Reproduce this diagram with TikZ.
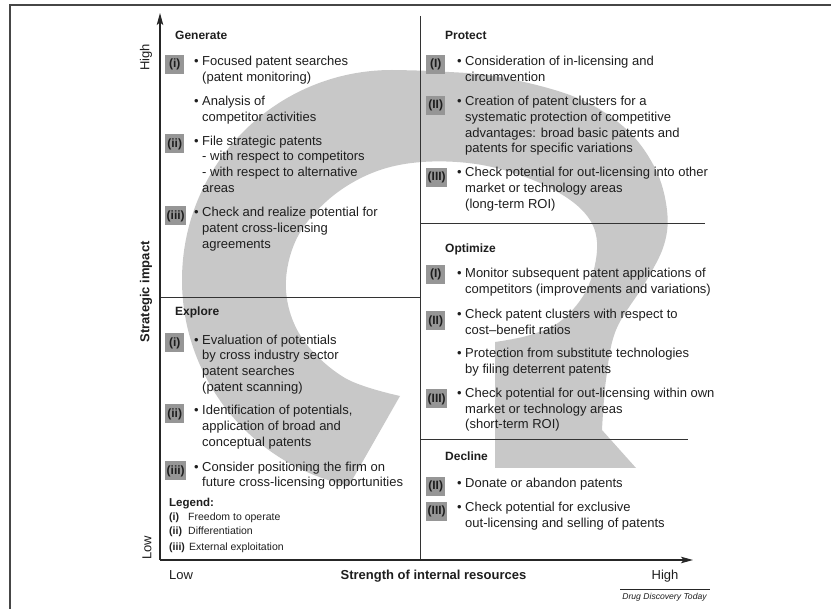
\documentclass[tikz,border=0pt]{standalone}
\usepackage{fontspec}
\setmainfont{Liberation Sans}
\usetikzlibrary{arrows.meta}
\definecolor{arrowgray}{RGB}{200,200,200}
\definecolor{badgegray}{RGB}{150,150,150}
\definecolor{txt}{RGB}{30,30,30}
\definecolor{framecol}{RGB}{70,70,70}
\begin{document}
\begin{tikzpicture}[x=1pt,y=-1pt,
  body/.style={font=\fontsize{13}{15.7}\selectfont, text=txt, align=left, anchor=north west, inner sep=0pt},
  headtxt/.style={font=\fontsize{12}{14}\selectfont\bfseries, text=txt, anchor=base west, inner sep=0pt},
  badge/.style={fill=badgegray, font=\fontsize{12}{14}\selectfont\bfseries, text=txt, inner xsep=1.5pt, inner ysep=0pt, minimum height=19pt, minimum width=19pt, anchor=west},
  axlab/.style={font=\fontsize{13}{15}\selectfont, text=txt, inner sep=0pt},
  legtxt/.style={font=\fontsize{10.5}{12}\selectfont, text=txt, anchor=base west, inner sep=0pt},
  divider/.style={draw=black!80, line width=0.9pt},
  axisline/.style={draw=black!85, line width=1.1pt, -{Stealth[length=12pt,width=6.5pt,inset=2.5pt]}}
]
\useasboundingbox (0,0) rectangle (831,609);
% outer frame
\draw[framecol, line width=1.6pt] (10,609) -- (10,5) -- (831,5);

% big circular arrow
\fill[arrowgray] (349,485.5) -- (400,396)
  -- plot[smooth, tension=0.6] coordinates {(400,396) (345,378) (302,338) (286,290) (296,240) (328,200) (372,173) (422,162) (482,165) (540,183) (582,210) (597,242) (588,287) (562,320) (530,335) (495,342)}
  -- (495,468) -- (636,468) -- (602,430)
  -- plot[smooth, tension=0.6] coordinates {(602,430) (606,380) (616,330) (645,283) (664,245) (667,210) (655,168) (625,128) (575,97) (500,77) (440,71.5) (392,70)}
  arc[start angle=270, end angle=101.6, radius=210] -- cycle;

% dividers
\draw[divider] (420,16) -- (420,560);
\draw[divider] (160,297) -- (420,297);
\draw[divider] (420,223) -- (705,223);
\draw[divider] (420,439) -- (688,439);

% axes
\coordinate (origin) at (160,560);
\coordinate (ytip) at (160,13);
\coordinate (xtip) at (693,560);
\draw[axisline] (origin) -- (ytip);
\draw[axisline] (origin) -- (xtip);

% axis labels
\node[axlab, rotate=90] (yhigh) at (146,57.5) {High};
\node[axlab, rotate=90, font=\fontsize{13}{15}\selectfont\bfseries] (ytitle) at (146,292) {Strategic impact};
\node[axlab, rotate=90] (ylow) at (147,548) {Low};
\node[axlab, anchor=base] (xlow) at (181,579.5) {Low};
\node[axlab, anchor=base, font=\fontsize{13}{15}\selectfont\bfseries] (xtitle) at (433.5,579.5) {Strength of internal resources};
\node[axlab, anchor=base] (xhigh) at (665,579.5) {High};
\draw[black!85, line width=0.8pt] (620,589.5) -- (710,589.5);
\node[anchor=base, inner sep=0pt, font=\fontsize{8.6}{10}\selectfont\itshape, text=txt] (source) at (664.5,599.5) {Drug Discovery Today};

% ---------- Generate ----------
\node[headtxt] (genh) at (175,40) {Generate};
\node[badge] (gb1) at (165,64.5) {(i)};
\node[body] (g1) at (202,54.5) {\strut\llap{•\ }Focused patent searches\\(patent monitoring)};
\node[body] (g2) at (202,94.5) {\strut\llap{•\ }Analysis of\\competitor activities};
\node[badge] (gb2) at (165,144) {(ii)};
\node[body] (g3) at (202,134) {\strut\llap{•\ }File strategic patents\\- with respect to competitors\\- with respect to alternative\\areas};
\node[badge] (gb3) at (165,216) {(iii)};
\node[body] (g4) at (202,205.5) {\strut\llap{•\ }Check and realize potential for\\patent cross-licensing\\agreements};

% ---------- Explore ----------
\node[headtxt] (exph) at (175,316) {Explore};
\node[badge] (eb1) at (165,343) {(i)};
\node[body] (e1) at (202,333) {\strut\llap{•\ }Evaluation of potentials\\by cross industry sector\\patent searches\\(patent scanning)};
\node[badge] (eb2) at (165,414) {(ii)};
\node[body] (e2) at (202,403.7) {\strut\llap{•\ }Identification of potentials,\\application of broad and\\conceptual patents};
\node[badge] (eb3) at (165,471) {(iii)};
\node[body] (e3) at (202,460) {\strut\llap{•\ }Consider positioning the firm on\\future cross-licensing opportunities};
% legend
\node[headtxt, font=\fontsize{11.5}{13}\selectfont\bfseries] (legh) at (169,507) {Legend:};
\node[legtxt, font=\fontsize{10.5}{12}\selectfont\bfseries] (l1k) at (169,520.8) {(i)};
\node[legtxt] (l1) at (188,520.8) {Freedom to operate};
\node[legtxt, font=\fontsize{10.5}{12}\selectfont\bfseries] (l2k) at (169,534.2) {(ii)};
\node[legtxt] (l2) at (188,534.2) {Differentiation};
\node[legtxt, font=\fontsize{10.5}{12}\selectfont\bfseries] (l3k) at (169,550.8) {(iii)};
\node[legtxt] (l3) at (189,550.8) {External exploitation};

% ---------- Protect ----------
\node[headtxt] (proh) at (445,40) {Protect};
\node[badge] (pb1) at (426,64.5) {(I)};
\node[body] (p1) at (465,54.5) {\strut\llap{•\ }Consideration of in-licensing and\\circumvention};
\node[badge] (pb2) at (426,105.8) {(II)};
\node[body] (p2) at (465,94.5) {\strut\llap{•\ }Creation of patent clusters for a\\systematic protection of competitive\\advantages: broad basic patents and\\patents for specific variations};
\node[badge] (pb3) at (426,177.5) {(III)};
\node[body] (p3) at (465,165.5) {\strut\llap{•\ }Check potential for out-licensing into other\\market or technology areas\\(long-term ROI)};

% ---------- Optimize ----------
\node[headtxt] (opth) at (445,253) {Optimize};
\node[badge] (ob1) at (426,274.5) {(I)};
\node[body] (o1) at (465,266.3) {\strut\llap{•\ }Monitor subsequent patent applications of\\competitors (improvements and variations)};
\node[badge] (ob2) at (426,321) {(II)};
\node[body] (o2) at (465,307.3) {\strut\llap{•\ }Check patent clusters with respect to\\cost–benefit ratios};
\node[body] (o3) at (465,346.3) {\strut\llap{•\ }Protection from substitute technologies\\by filing deterrent patents};
\node[badge] (ob3) at (426,399) {(III)};
\node[body] (o4) at (465,386.3) {\strut\llap{•\ }Check potential for out-licensing within own\\market or technology areas\\(short-term ROI)};

% ---------- Decline ----------
\node[headtxt] (dech) at (445,461) {Decline};
\node[badge] (db1) at (426,486.5) {(II)};
\node[body] (d1) at (465,476.3) {\strut\llap{•\ }Donate or abandon patents};
\node[badge] (db2) at (426,511.7) {(III)};
\node[body] (d2) at (465,500.7) {\strut\llap{•\ }Check potential for exclusive\\out-licensing and selling of patents};
\end{tikzpicture}
\end{document}
